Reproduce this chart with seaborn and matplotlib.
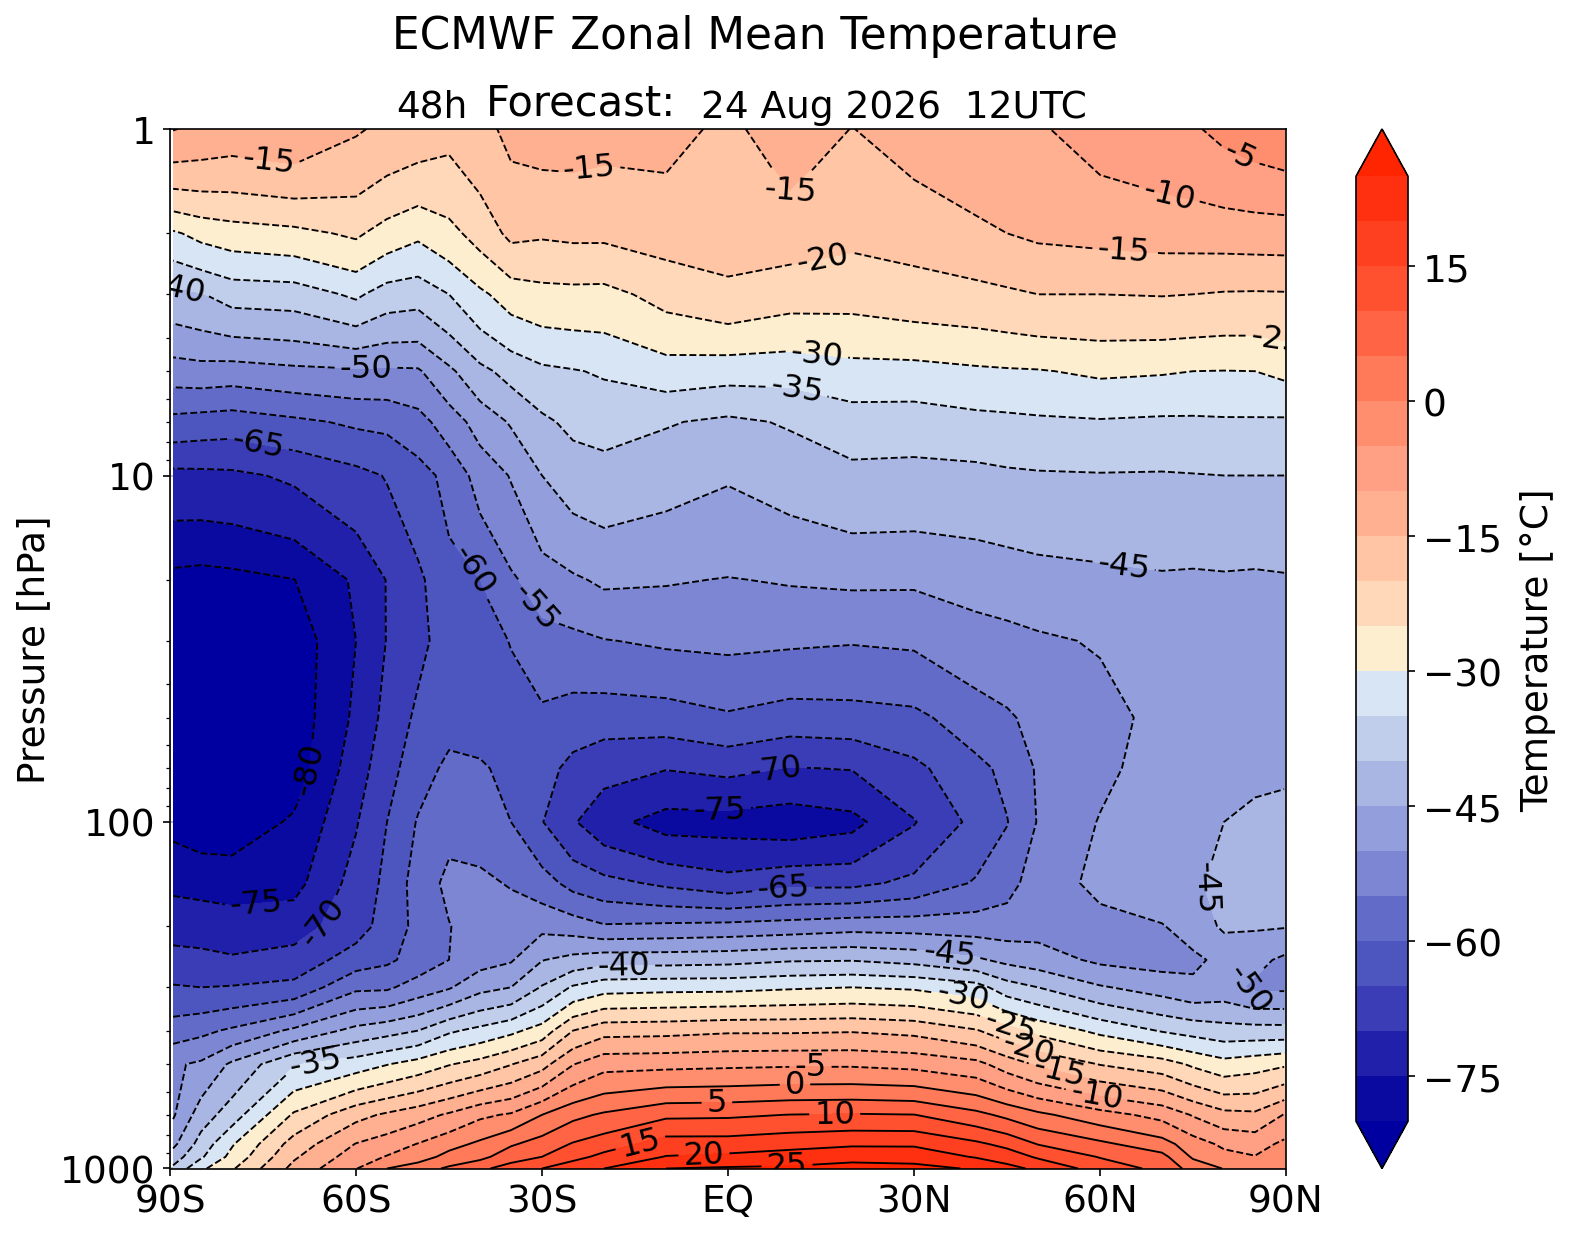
import numpy as np
import pandas as pd
import seaborn as sns
import matplotlib
matplotlib.use("Agg")
import matplotlib.pyplot as plt
from matplotlib.colors import ListedColormap, BoundaryNorm

latitudes = [-89.5, -85, -80, -70, -60, -55, -50, -45, -40, -35, -30, -25, -20, -10, 0, 10, 20, 30, 40, 45, 50, 60, 70, 75, 80, 85, 89.7]
pressures = [1, 2, 3, 5, 7, 10, 20, 30, 50, 70, 100, 150, 200, 250, 300, 400, 500, 700, 850, 925, 1000]

t_1 = [-9.8, -11, -12, -11, -14.5, -16, -17, -18.5, -16.5, -13.8, -13, -13, -13.5, -13.5, -16, -12.5, -15.1, -13, -11.5, -11, -10.5, -8, -6.5, -5.5, -3.8, -2.5, -1.5]
t_2 = [-30.7, -28.5, -27.3, -26.3, -24.2, -27, -29, -26.5, -23, -18.8, -19.4, -19, -19, -17.9, -17.8, -17.5, -18.8, -18, -16, -15, -14.2, -13.6, -13.1, -13, -12.8, -12.6, -12.5]
t_3 = [-41.5, -40.3, -38, -37.6, -34.1, -37.3, -38, -35, -31, -27.7, -26.6, -26.4, -26.5, -23.3, -21.1, -22.9, -23.2, -22.1, -21.5, -20.8, -20, -20, -19.8, -20, -20.4, -20.5, -20.4]
t_5 = [-52.4, -51.9, -52.3, -51.2, -50.7, -50.8, -50.6, -46, -41.3, -38.3, -36, -35.3, -34.5, -32.3, -33, -33.2, -31.8, -31.7, -30.8, -30.5, -30.3, -29.2, -29.6, -30, -30.1, -30, -28.9]
t_7 = [-61.6, -62.2, -62.7, -61, -59.2, -58.8, -56.8, -52.5, -48, -44.5, -41, -38.8, -38, -39.6, -41, -39.5, -37.4, -37.6, -36.5, -36.2, -35.8, -35.4, -35.8, -35.8, -35.6, -35.6, -35.7]
t_10 = [-71.5, -71.3, -71, -69.2, -66.5, -64.7, -62, -58.5, -53, -49.7, -45, -42.7, -42, -43.3, -44.6, -43, -41.3, -41.5, -41.4, -40.8, -40.5, -40.3, -40.4, -40.2, -40, -40, -40]
t_20 = [-81.5, -82, -81.5, -80.1, -74.2, -69.8, -66, -61.5, -60, -55.8, -52.5, -50.7, -49.2, -49.6, -50.2, -49.6, -49.2, -49.3, -48.2, -47.7, -47, -46.3, -45.6, -45.8, -45.6, -45.8, -45.5]
t_30 = [-84, -85, -85, -83, -75, -69.8, -66.2, -63, -62, -59.8, -56.9, -56.3, -55.2, -54.3, -54, -54.3, -54.7, -54.3, -52, -51.4, -50.7, -49.6, -46.7, -46.6, -46.5, -46.8, -46.5]
t_50 = [-85, -86, -86, -83, -74, -68.4, -64, -61.5, -62.5, -62, -61, -62.3, -62.9, -62.5, -60.7, -62.4, -62, -61.2, -57.3, -55.7, -53.4, -51.8, -48.5, -48, -47.5, -47.5, -47]
t_70 = [-85, -86, -86, -82.5, -72.3, -67, -62, -59, -59.3, -61.5, -63, -66.5, -68.3, -69.8, -68.8, -70.2, -69.8, -66.2, -61.3, -58.8, -54.4, -51.2, -47.8, -47.3, -46.8, -46, -45.8]
t_100 = [-81.5, -83, -83, -79.3, -70.4, -65, -59.6, -56.5, -57.3, -60, -64.8, -69.5, -73.3, -77, -77, -78, -76.5, -70.3, -63.5, -60.2, -54.7, -49.7, -47.4, -46.2, -45, -44, -43.5]
t_150 = [-76.1, -76.5, -77, -76.7, -68, -63.9, -57.8, -53.8, -54, -55.4, -57.9, -61.7, -63.5, -66, -68.2, -66.3, -66.3, -63.8, -59.5, -56.8, -52.5, -48.8, -46.5, -45.6, -43.8, -43.5, -43]
t_200 = [-72, -72.4, -72.9, -72, -67.3, -62.8, -58.7, -55.2, -52.6, -52.3, -51.3, -52.4, -54.5, -54, -53.5, -52.8, -51.8, -52, -52.4, -52.6, -52, -51.5, -50.3, -47.8, -44.2, -44.5, -44.7]
t_250 = [-68.3, -68.6, -69.4, -68.2, -62.5, -60.9, -58.1, -55, -52, -50.5, -45.2, -43.4, -42, -42, -41.6, -40.5, -40.3, -41.6, -44.2, -46.3, -47.6, -51, -52, -51, -48.7, -48.5, -51]
t_300 = [-64.6, -65, -64.7, -63.6, -56, -55.8, -52.8, -50.5, -46.5, -45, -39.6, -34.4, -32, -31.5, -31.4, -30.6, -30, -30.7, -33, -37.8, -40, -44.5, -47.2, -49, -48, -51, -51]
t_400 = [-57.5, -56.2, -54.2, -49, -43.5, -41.8, -40, -35.8, -33.6, -31.2, -27.9, -20, -16.8, -16.5, -15.7, -15.7, -15.4, -16.4, -19.6, -23, -26.4, -31.3, -35.4, -36.8, -38, -38, -38.1]
t_500 = [-50.7, -49.2, -44.1, -35.4, -32.4, -30.2, -28, -25.3, -23.2, -20.2, -16.8, -10.2, -6.7, -6.4, -6, -5.7, -5.7, -6.5, -8.5, -12.4, -15.7, -20.2, -22.7, -25.8, -28.2, -27, -25.7]
t_700 = [-50.6, -42.5, -37.5, -24.3, -16.6, -14.2, -12, -9.3, -6, -4.4, 0, 3.7, 5.7, 9, 9.2, 10.1, 10.4, 10.1, 6.4, 3.8, 1.1, -3.1, -6.6, -10.4, -13.5, -14, -9.8]
t_850 = [-46.2, -38, -30.5, -17.9, -9.8, -7.6, -4.8, -1.8, 1, 4.4, 7.1, 10.4, 12.6, 17.3, 17.3, 18.4, 19.3, 19.3, 16, 13.6, 9.8, 6.1, 2, -2.7, -6, -7, -4]
t_925 = [-42.6, -35.7, -28.5, -15.7, -7.5, -4.7, -2.5, 1.7, 3.5, 7.9, 10, 13.3, 16.4, 20.2, 21, 22, 23.2, 22.9, 19.6, 17.7, 14.3, 9.7, 6.5, -0.7, -3.5, -4.8, -3]
t_1000 = [-39, -31, -25.6, -13.5, -5.2, 0, 2.7, 5.8, 9, 12, 15, 18.2, 20, 25, 25.6, 25.9, 27, 26.5, 24.5, 21.5, 19, 12.8, 8.7, 3, -0.2, -3, -1.8]

levels = list(range(-80, 26, 5))
band_colours = ["#0a0aa0", "#2020aa", "#3a3db5", "#4d55be", "#626cc8", "#7d86d2", "#939fdc",
                "#a9b5e3", "#c0ceeb", "#d8e5f5", "#fdeed0", "#fed8b8", "#ffc5a5", "#ffb090",
                "#ffa085", "#ff8e6e", "#ff7a58", "#ff6545", "#ff5030", "#ff4020", "#ff3010"]
under_colour = "#0000a0"
over_colour = "#ff2500"

xticks = [-90, -60, -30, 0, 30, 60, 90]
xticklabels = ["90S", "60S", "30S", "EQ", "30N", "60N", "90N"]
yticks = [1, 10, 100, 1000]
yticklabels = ["1", "10", "100", "1000"]
cbar_ticks = [-75, -60, -45, -30, -15, 0, 15]

label_level = [-15, -15, -15, -10, -5, -15, -20, -40, -30, -35, -25, -50, -65, -45, -60, -55,
               -70, -75, -80, -65, -45, -75, -70, -45, -40, -50, -30, -25, -20, -15, -10, -35,
               -5, 0, 5, 10, 15, 20, 25]
label_lat = [-73.8, -21.5, 9.2, 71.1, 82.7, 63.8, 15.5, -88.4, 14.4, 11.2, 88.5, -58.4, -75.8, 64.1, -41.1, -29.8,
             7.6, -1.3, -66.7, 8.9, 77, -75.9, -63.8, 35.8, -16.8, 84, 37.9, 45.6, 48.9, 53.7, 59.6, -66.5,
             13.3, 10.8, -1.8, 17.2, -14.4, -3.9, 9.5]
label_p = [1.14, 1.52, 1.54, 1.56, 1.18, 2.27, 2.5, 2.78, 4.37, 5.52, 4.04, 4.8, 8.08, 16.7, 18.6, 23,
           68.4, 88.7, 70.7, 153, 154, 190, 201, 230, 255, 301, 315, 380, 428, 497, 594, 496,
           496, 559, 627, 675, 807, 893, 948]

table = pd.DataFrame(
    [t_1, t_2, t_3, t_5, t_7, t_10, t_20, t_30, t_50, t_70, t_100, t_150, t_200, t_250, t_300,
     t_400, t_500, t_700, t_850, t_925, t_1000],
    index=pressures, columns=latitudes)

sns.set_theme(context="notebook", style="ticks", rc={
    "font.family": ["DejaVu Sans"],
    "axes.edgecolor": "black", "axes.labelcolor": "black", "text.color": "black",
    "xtick.color": "black", "ytick.color": "black",
    "axes.linewidth": 0.8, "xtick.major.width": 0.8, "ytick.major.width": 0.8,
    "ytick.minor.width": 0.6, "xtick.major.size": 3.5, "ytick.major.size": 3.5, "ytick.minor.size": 2,
    "grid.color": "#b0b0b0", "grid.linewidth": 0.8,
    "axes.labelsize": 18, "xtick.labelsize": 18, "ytick.labelsize": 18,
})

W, H = 1572, 1235
dpi = 150
fig = plt.figure(figsize=(W / dpi, H / dpi), dpi=dpi)
ax = fig.add_axes([170 / W, 1 - 1169.5 / H, (1286 - 170) / W, (1169.5 - 130) / H])

cmap = ListedColormap(sns.color_palette(band_colours, n_colors=len(band_colours)))
cmap.set_under(under_colour)
cmap.set_over(over_colour)
norm = BoundaryNorm(levels, cmap.N)

ax.set_yscale("log")
filled = ax.contourf(table.columns, table.index, table.values, levels=levels, cmap=cmap, norm=norm, extend="both")

ax.set_xlim(-90, 90)
ax.set_ylim(1000, 1)
ax.set_xticks(xticks)
ax.set_xticklabels(xticklabels)
ax.set_yticks(yticks)
ax.set_yticklabels(yticklabels)
ax.grid(True, which="major")
ax.set_ylabel("Pressure [hPa]", labelpad=3.6)
ax.tick_params(axis="y", which="minor", labelleft=False)

for level in levels:
    line = ax.contour(table.columns, table.index, table.values, levels=[level], colors="black", linewidths=0.9)
    points = [(la, pr) for lv, la, pr in zip(label_level, label_lat, label_p) if lv == level]
    if points:
        for text in ax.clabel(line, fmt="%d", fontsize=15.5, inline=True, manual=points):
            text.set_clip_on(True)
            text.set_clip_box(ax.bbox)

cax = fig.add_axes([1356 / W, 1 - 1169.5 / H, 52 / W, (1169.5 - 130) / H])
cbar = fig.colorbar(filled, cax=cax, ticks=cbar_ticks, spacing="proportional")
cbar.minorticks_off()
cbar.set_label("Temperature [°C]", fontsize=18, labelpad=9)
cbar.ax.tick_params(labelsize=18)

fig.text(754.5 / W, 1 - 37 / H, "ECMWF Zonal Mean Temperature", ha="center", va="center", fontsize=21)
fig.text(396 / W, 1 - 118 / H, "48h", ha="left", va="baseline", fontsize=18)
fig.text(486 / W, 1 - 116 / H, "Forecast:", ha="left", va="baseline", fontsize=20)
fig.text(701 / W, 1 - 118 / H, "24 Aug 2026  12UTC", ha="left", va="baseline", fontsize=18)

fig.savefig("out.png", dpi=dpi)
